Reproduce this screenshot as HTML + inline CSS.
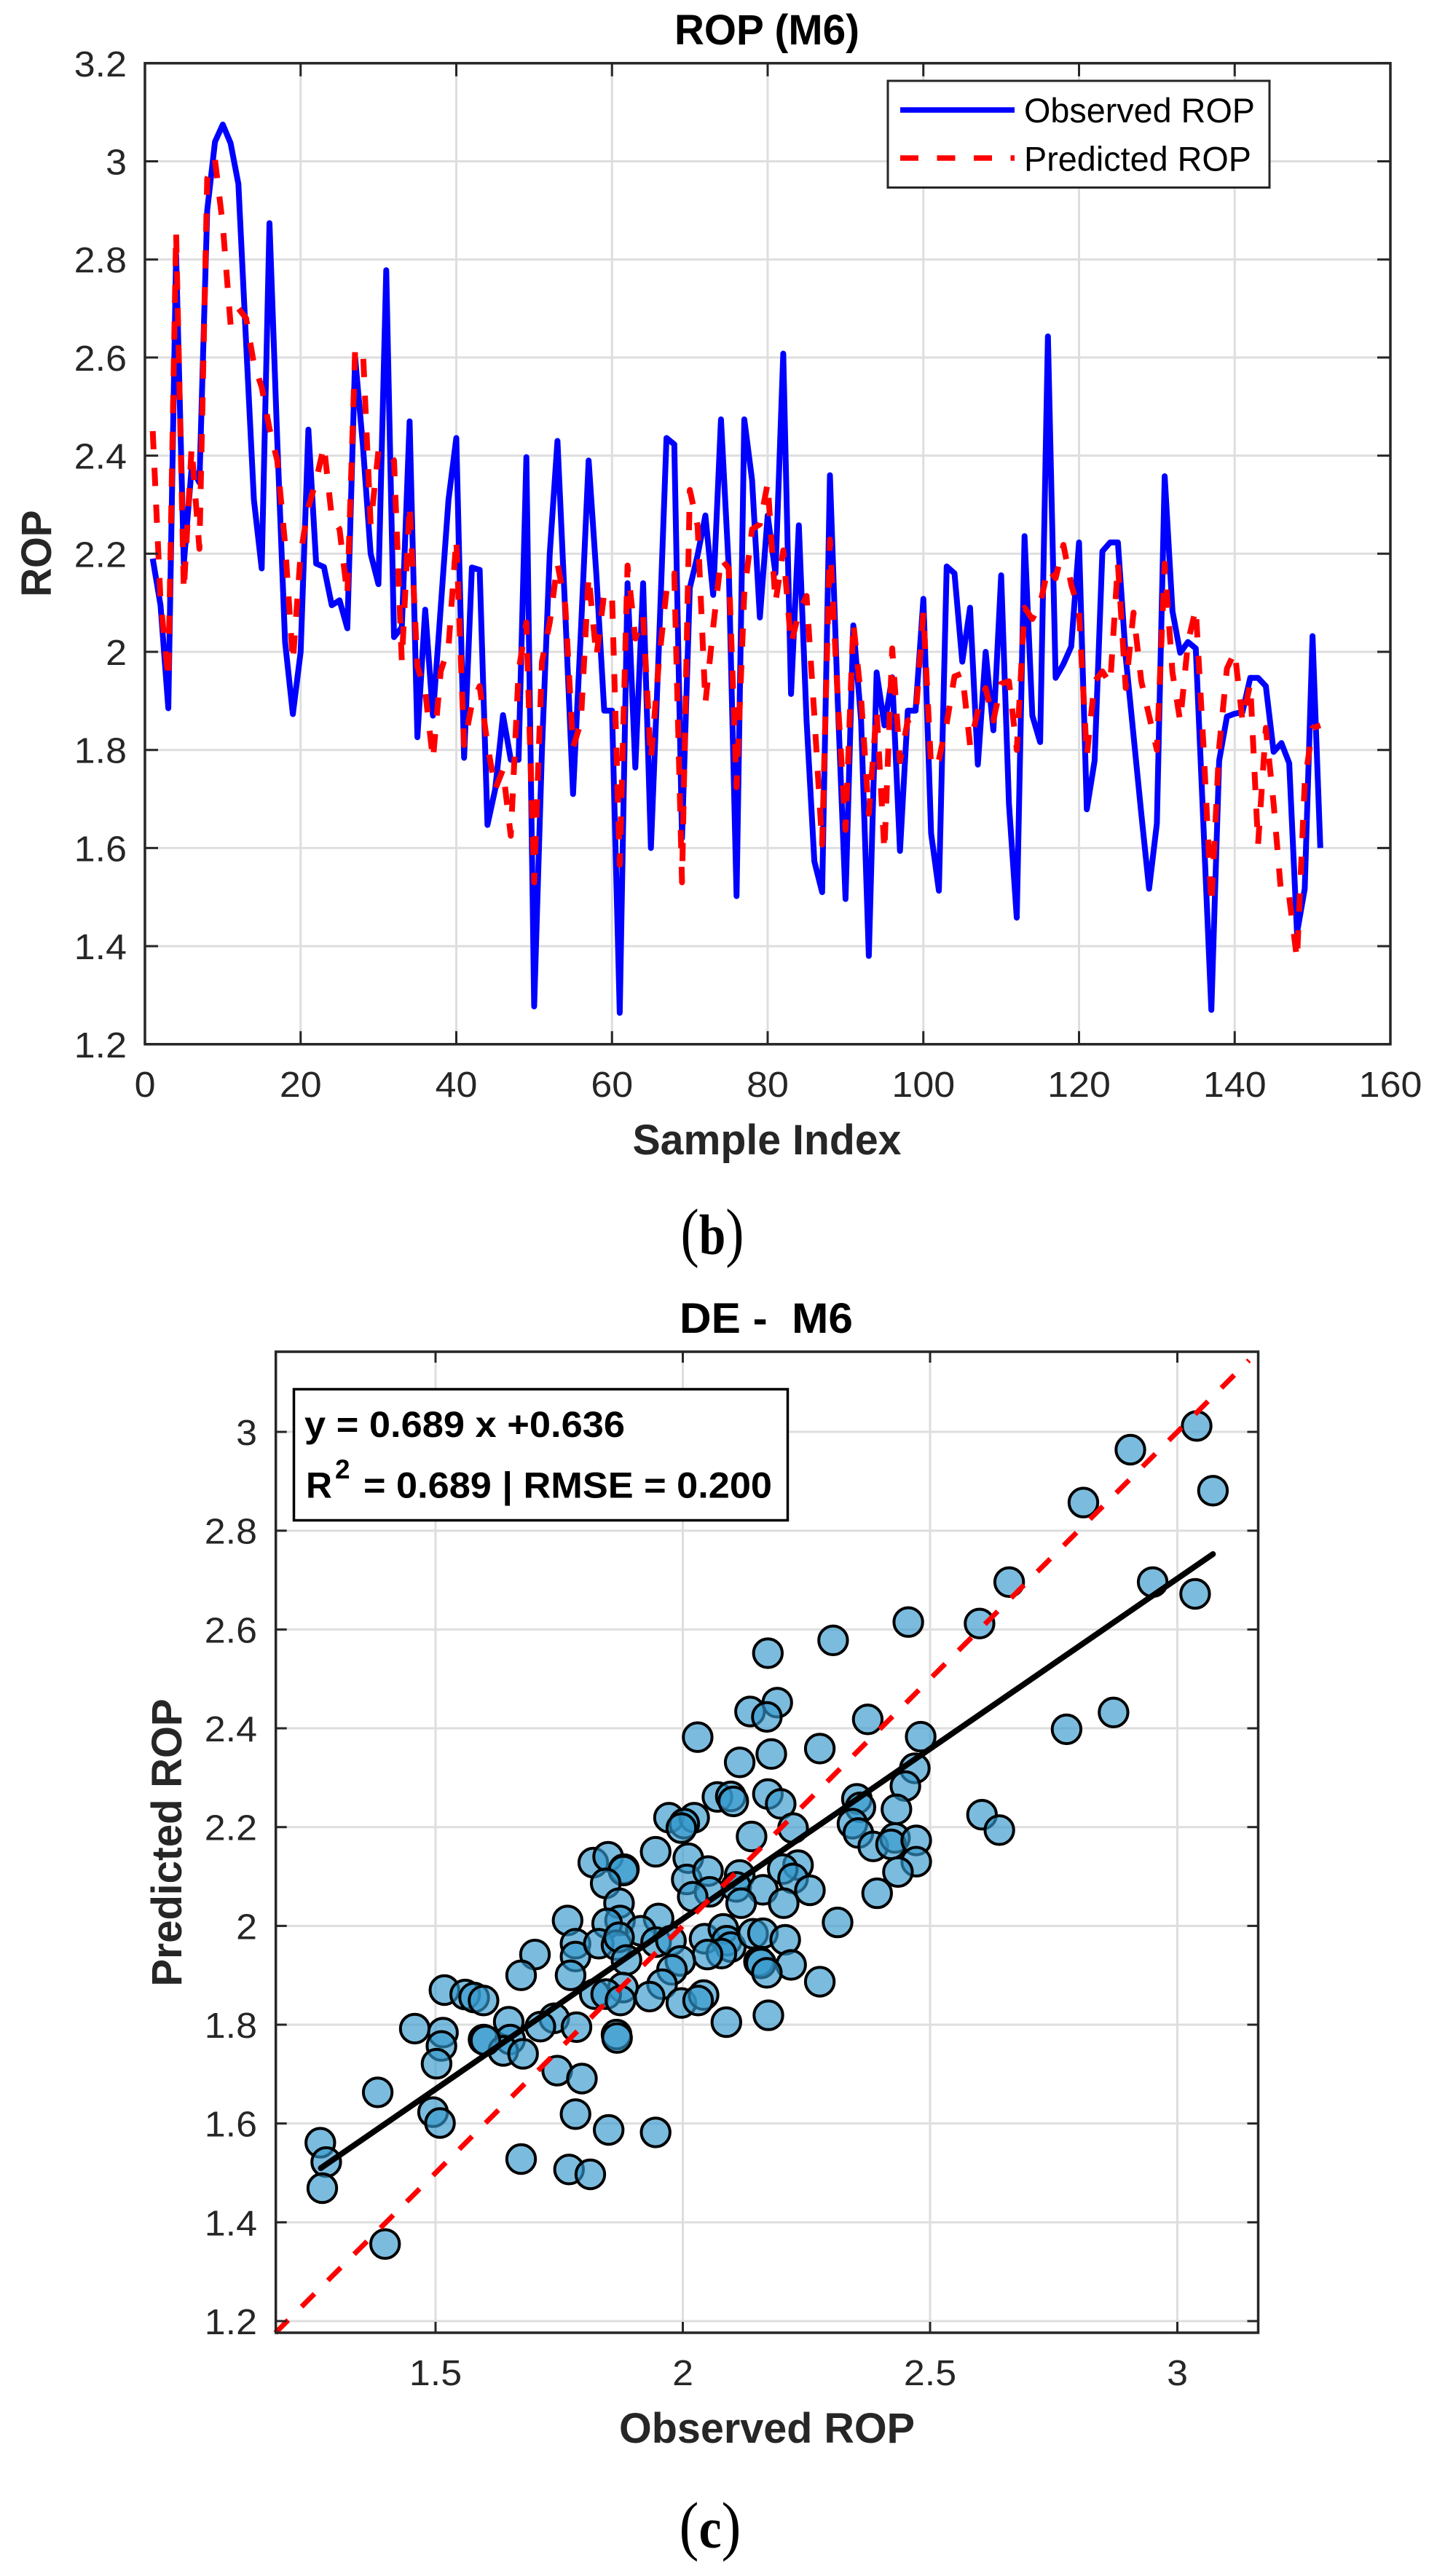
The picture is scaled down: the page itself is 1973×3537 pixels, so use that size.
<!DOCTYPE html>
<html lang="en">
<head>
<meta charset="utf-8">
<title>ROP (M6) charts</title>
<style>
html,body{margin:0;padding:0;background:#fff;}
svg{display:block;}
text{font-family:"Liberation Sans",Arial,sans-serif;white-space:pre;}
.cap{font-family:"Liberation Serif",serif;}
</style>
</head>
<body>
<svg id="fig" xmlns="http://www.w3.org/2000/svg" width="1973" height="3537" viewBox="0 0 1973 3537">
  <rect x="0" y="0" width="1973" height="3537" fill="#fff"/>

  <g id="lineChart"></g>
  <g id="scatterChart"></g>

  <text x="1053" y="61" text-anchor="middle" font-size="58" font-weight="700" fill="#000" textLength="254" lengthAdjust="spacingAndGlyphs">ROP (M6)</text>
  <text x="1053" y="1585" text-anchor="middle" font-size="58" font-weight="700" fill="#262626" textLength="369" lengthAdjust="spacingAndGlyphs">Sample Index</text>
  <text transform="translate(70,760) rotate(-90)" text-anchor="middle" font-size="58" font-weight="700" fill="#262626" textLength="119" lengthAdjust="spacingAndGlyphs">ROP</text>

  <g>
    <rect x="1219" y="111" width="524" height="146.5" fill="#fff" stroke="#262626" stroke-width="3"/>
    <line x1="1236" y1="151" x2="1393" y2="151" stroke="#0000ff" stroke-width="7.5"/>
    <line x1="1236" y1="217" x2="1393" y2="217" stroke="#ff0000" stroke-width="7.5" stroke-dasharray="25 25.5"/>
    <text x="1406" y="168" font-size="47" fill="#000" textLength="317" lengthAdjust="spacingAndGlyphs">Observed ROP</text>
    <text x="1406" y="234.5" font-size="47" fill="#000" textLength="312" lengthAdjust="spacingAndGlyphs">Predicted ROP</text>
  </g>

  <text class="cap" x="978" y="1722" text-anchor="middle" font-size="90" fill="#000" textLength="87" lengthAdjust="spacingAndGlyphs">(<tspan font-size="78" font-weight="700">b</tspan>)</text>

  <text x="1052" y="1830" text-anchor="middle" font-size="58" font-weight="700" fill="#000" textLength="238" lengthAdjust="spacingAndGlyphs">DE -  M6</text>
  <text x="1053" y="3354" text-anchor="middle" font-size="58" font-weight="700" fill="#262626" textLength="406" lengthAdjust="spacingAndGlyphs">Observed ROP</text>
  <text transform="translate(249,2530) rotate(-90)" text-anchor="middle" font-size="58" font-weight="700" fill="#262626" textLength="395" lengthAdjust="spacingAndGlyphs">Predicted ROP</text>

  <g>
    <rect x="403.5" y="1907.5" width="678" height="180" fill="#fff" stroke="#000" stroke-width="3.5"/>
    <text x="418" y="1973" font-size="50" font-weight="700" fill="#000" textLength="440" lengthAdjust="spacingAndGlyphs">y = 0.689 x +0.636</text>
    <text x="420" y="2056.5" font-size="50" font-weight="700" fill="#000" textLength="36" lengthAdjust="spacingAndGlyphs">R</text>
    <text x="460" y="2030" font-size="37" font-weight="700" fill="#000">2</text>
    <text x="499" y="2056.5" font-size="50" font-weight="700" fill="#000" textLength="561" lengthAdjust="spacingAndGlyphs">= 0.689 | RMSE = 0.200</text>
  </g>

  <text class="cap" x="975" y="3498" text-anchor="middle" font-size="90" fill="#000" textLength="85" lengthAdjust="spacingAndGlyphs">(<tspan font-size="78" font-weight="700">c</tspan>)</text>
</svg>

<script>
const lineXTicks = [0, 20, 40, 60, 80, 100, 120, 140, 160];
const lineXLabels = ['0', '20', '40', '60', '80', '100', '120', '140', '160'];
const lineYTicks = [1.2, 1.4, 1.6, 1.8, 2, 2.2, 2.4, 2.6, 2.8, 3, 3.2];
const lineYLabels = ['1.2', '1.4', '1.6', '1.8', '2', '2.2', '2.4', '2.6', '2.8', '3', '3.2'];

const observedRop = [
2.19,2.095,1.885,2.81,2.18,2.375,2.345,2.90,3.04,3.075,
3.037,2.954,2.63,2.31,2.17,2.874,2.43,2.02,1.873,2.0,
2.453,2.18,2.173,2.095,2.105,2.048,2.60,2.42,2.2,2.138,
2.778,2.03,2.05,2.47,1.826,2.086,1.87,2.09,2.31,2.436,
1.784,2.172,2.167,1.647,1.72,1.871,1.78,1.78,2.397,1.277,
1.80,2.2,2.43,2.08,1.71,2.04,2.39,2.155,1.88,1.88,
1.264,2.14,1.764,2.14,1.6,2.0,2.436,2.423,1.62,2.13,
2.197,2.278,2.116,2.474,2.17,1.502,2.474,2.35,2.07,2.278,
2.16,2.608,1.914,2.258,1.86,1.573,1.51,2.36,1.9,1.496,
2.054,1.86,1.38,1.958,1.85,1.948,1.594,1.88,1.88,2.108,
1.63,1.513,2.174,2.16,1.98,2.09,1.77,2.0,1.84,2.156,
1.69,1.458,2.236,1.87,1.816,2.643,1.947,1.975,2.011,2.223,
1.679,1.778,2.205,2.223,2.223,1.99,1.83,1.67,1.517,1.65,
2.358,2.083,1.998,2.02,2.007,1.64,1.27,1.778,1.868,1.874,
1.877,1.947,1.947,1.93,1.796,1.814,1.773,1.427,1.517,2.032,
1.6];

const predictedRop = [
2.45,2.105,1.944,2.856,2.124,2.417,2.21,2.965,3.003,2.87,
2.667,2.70,2.68,2.587,2.54,2.455,2.39,2.22,1.98,2.2,
2.294,2.35,2.42,2.275,2.25,2.115,2.615,2.615,2.26,2.41,
2.41,2.39,1.98,2.30,1.97,1.92,1.78,1.96,2.01,2.23,
1.81,1.894,1.93,1.81,1.72,1.76,1.625,1.96,2.06,1.53,
1.98,2.06,2.18,2.095,1.805,1.856,2.155,1.99,2.12,2.116,
1.566,2.176,2.027,2.073,1.78,1.975,2.125,2.16,1.53,2.33,
2.257,1.895,2.05,2.19,2.17,1.724,2.12,2.25,2.26,2.344,
2.1,2.207,2.016,2.08,2.114,1.87,1.607,2.229,1.905,1.637,
2.06,1.905,1.67,1.88,1.594,2.007,1.777,1.86,1.867,2.08,
1.765,1.78,1.854,1.95,1.956,1.81,1.88,1.926,1.86,1.935,
1.94,1.8,2.09,2.067,2.097,2.17,2.15,2.218,2.137,2.083,
1.787,1.94,1.96,1.935,2.18,1.926,2.08,1.94,1.87,1.8,
2.18,1.958,1.858,2.02,2.088,1.805,1.485,1.805,1.966,2.0,
1.86,1.935,1.607,1.845,1.69,1.5,1.5,1.373,1.733,1.845,
1.85];

const scatterXTicks = [1.5, 2, 2.5, 3];
const scatterXLabels = ['1.5', '2', '2.5', '3'];
const scatterYTicks = [1.2, 1.4, 1.6, 1.8, 2, 2.2, 2.4, 2.6, 2.8, 3];
const scatterYLabels = ['1.2', '1.4', '1.6', '1.8', '2', '2.2', '2.4', '2.6', '2.8', '3'];

const scatterObserved = [
2.456,2.600,2.304,2.172,2.191,2.136,2.170,2.374,2.030,2.481,
2.179,2.115,2.277,2.469,2.450,2.172,2.198,2.432,2.352,2.359,
2.070,2.097,2.102,1.972,2.023,2.003,1.997,2.223,2.605,2.640,
2.139,2.343,2.355,2.385,2.429,2.421,2.472,2.472,2.435,2.393,
1.945,2.011,1.819,1.849,1.881,1.880,1.844,2.008,2.051,2.115,
2.233,2.202,2.223,2.257,2.108,2.162,2.054,2.020,2.118,2.204,
2.313,1.871,1.873,1.847,1.767,1.951,1.915,1.783,1.783,1.830,
1.866,1.871,1.886,1.946,1.976,2.044,2.082,2.089,2.097,2.078,
2.050,2.142,2.162,2.207,2.219,2.154,2.158,2.170,2.277,1.995,
1.978,1.958,1.933,1.997,2.042,2.031,2.088,2.173,1.701,1.673,
1.773,1.518,1.560,1.578,1.597,1.879,1.822,1.845,1.874,1.648,
1.740,1.712,1.785,1.597,1.651,1.637,1.677,1.866,1.867,1.746,
1.796,1.458,1.515,1.512,1.502,1.383,1.495,1.509,1.267,
1.279,1.271,1.398,1.673,1.770,1.813,1.783,1.850,1.945,3.039,
2.905,3.072,2.810,2.950,3.036,2.660,2.871,2.776,1.601];

const scatterPredicted = [
2.615,2.612,2.578,2.552,2.452,2.434,2.423,2.418,2.382,2.383,
2.348,2.331,2.359,2.319,2.283,2.267,2.247,2.236,2.257,2.240,
2.261,2.262,2.252,2.219,2.219,2.207,2.198,2.198,2.225,2.194,
2.181,2.207,2.188,2.161,2.178,2.165,2.173,2.130,2.109,2.066,
2.150,2.137,2.128,2.140,2.115,2.112,2.086,2.094,2.111,2.103,
2.123,2.115,2.096,2.072,2.079,2.073,2.069,2.059,2.046,2.046,
2.007,2.046,2.011,2.005,2.011,2.015,1.990,1.964,1.938,1.964,
1.961,1.977,1.931,1.967,1.970,1.974,1.994,1.970,1.957,1.944,
1.942,1.984,1.985,1.972,1.921,1.928,1.924,1.905,1.887,1.929,
1.911,1.882,1.857,1.844,1.860,1.849,1.805,1.819,1.942,1.900,
1.900,1.870,1.861,1.855,1.849,1.875,1.862,1.862,1.849,1.806,
1.813,1.796,1.795,1.770,1.770,1.747,1.741,1.780,1.773,1.707,
1.691,1.792,1.784,1.757,1.721,1.663,1.623,1.601,1.561,
1.522,1.469,1.356,1.528,1.507,1.497,1.619,1.587,1.582,3.012,
2.964,2.881,2.857,2.696,2.672,2.696,2.432,2.398,1.768];

const fitSlope = 0.689;
const fitIntercept = 0.636;
const fitStart = 1.268;
const fitEnd = 3.072;
const identityStart = 1.176;
const identityEnd = 3.145;

const NS = 'http://www.w3.org/2000/svg';
const TICK_COLOR = '#262626';
const GRID_COLOR = '#dedede';
const LABEL_SCALE = 1.06;

function xLine(v) { return 199 + v * 10.6875; }
function yLine(v) { return 1433.8 - (v - 1.2) * 673.5; }
function xScatter(v) { return 598 + (v - 1.5) * 679; }
function yScatter(v) { return 3187 - (v - 1.2) * 678.3; }

function svgEl(tag, parent) {
  const el = document.createElementNS(NS, tag);
  parent.appendChild(el);
  return el;
}
function drawSegment(parent, x1, y1, x2, y2, color, width) {
  const l = svgEl('line', parent);
  l.setAttribute('x1', x1);
  l.setAttribute('y1', y1);
  l.setAttribute('x2', x2);
  l.setAttribute('y2', y2);
  l.setAttribute('stroke', color);
  l.setAttribute('stroke-width', width);
  return l;
}
function drawLabel(parent, str, x, y, anchor) {
  const t = svgEl('text', parent);
  t.setAttribute('transform', 'translate(' + x + ',' + y + ') scale(' + LABEL_SCALE + ',1)');
  t.setAttribute('text-anchor', anchor);
  t.setAttribute('font-size', '49');
  t.setAttribute('fill', TICK_COLOR);
  t.textContent = str;
  return t;
}

function drawAxes(root, box, xTicks, xLabels, yTicks, yLabels, xf, yf, tickLen, xLabelY, yLabelX) {
  xTicks.forEach(function (v) {
    const g = drawSegment(root, xf(v), box.top, xf(v), box.bottom, GRID_COLOR, 3);
    
    
  });
  yTicks.forEach(function (v) {
    const g = drawSegment(root, box.left, yf(v), box.right, yf(v), GRID_COLOR, 3);
    
    
  });
  xTicks.forEach(function (v, i) {
    const t = drawLabel(root, xLabels[i], xf(v), xLabelY, 'middle');
    
    
  });
  yTicks.forEach(function (v, i) {
    const t = drawLabel(root, yLabels[i], yLabelX, yf(v) + 18, 'end');
    
    
  });
}
function drawFrame(root, box, xTicks, yTicks, xf, yf, tickLen) {
  xTicks.forEach(function (v) {
    const a = drawSegment(root, xf(v), box.bottom, xf(v), box.bottom - tickLen, TICK_COLOR, 3);
    
    
    const b = drawSegment(root, xf(v), box.top, xf(v), box.top + tickLen, TICK_COLOR, 3);
    
    
  });
  yTicks.forEach(function (v) {
    const a = drawSegment(root, box.left, yf(v), box.left + tickLen, yf(v), TICK_COLOR, 3);
    
    
    const b = drawSegment(root, box.right, yf(v), box.right - tickLen, yf(v), TICK_COLOR, 3);
    
    
  });
  const f = svgEl('rect', root);
  f.setAttribute('x', box.left);
  f.setAttribute('y', box.top);
  f.setAttribute('width', box.right - box.left);
  f.setAttribute('height', box.bottom - box.top);
  f.setAttribute('fill', 'none');
  f.setAttribute('stroke', TICK_COLOR);
  f.setAttribute('stroke-width', '3.5');
  
  
}
function seriesPath(values, xf, yf) {
  return values.map(function (v, i) {
    return (i ? 'L' : 'M') + xf(i + 1).toFixed(1) + ' ' + yf(v).toFixed(1);
  }).join('');
}

/* line chart */
const lineRoot = document.getElementById('lineChart');
const lineBox = { left: 199, right: 1909, top: 86.8, bottom: 1433.8 };
drawAxes(lineRoot, lineBox, lineXTicks, lineXLabels, lineYTicks, lineYLabels, xLine, yLine, 18, 1506, 174);

const observedPath = svgEl('path', lineRoot);
observedPath.setAttribute('d', seriesPath(observedRop, xLine, yLine));
observedPath.setAttribute('fill', 'none');
observedPath.setAttribute('stroke', '#0000ff');
observedPath.setAttribute('stroke-width', '8');
observedPath.setAttribute('stroke-linejoin', 'round');



const predictedPath = svgEl('path', lineRoot);
predictedPath.setAttribute('d', seriesPath(predictedRop, xLine, yLine));
predictedPath.setAttribute('fill', 'none');
predictedPath.setAttribute('stroke', '#ff0000');
predictedPath.setAttribute('stroke-width', '8');
predictedPath.setAttribute('stroke-dasharray', '25 25.5');
predictedPath.setAttribute('stroke-linejoin', 'round');



drawFrame(lineRoot, lineBox, lineXTicks, lineYTicks, xLine, yLine, 18);

/* scatter chart */
const scatterRoot = document.getElementById('scatterChart');
const scatterBox = { left: 378.7, right: 1727.5, top: 1856, bottom: 3203 };
drawAxes(scatterRoot, scatterBox, scatterXTicks, scatterXLabels, scatterYTicks, scatterYLabels, xScatter, yScatter, 15, 3275, 353);

scatterObserved.forEach(function (v, i) {
  const c = svgEl('circle', scatterRoot);
  c.setAttribute('cx', xScatter(v).toFixed(1));
  c.setAttribute('cy', yScatter(scatterPredicted[i]).toFixed(1));
  c.setAttribute('r', '19.7');
  c.setAttribute('fill', '#3498cc');
  c.setAttribute('fill-opacity', '0.65');
  c.setAttribute('stroke', '#000');
  c.setAttribute('stroke-width', '4');
  
  
});

const fitLine = drawSegment(scatterRoot, xScatter(fitStart), yScatter(fitSlope * fitStart + fitIntercept), xScatter(fitEnd), yScatter(fitSlope * fitEnd + fitIntercept), '#000', 8);
fitLine.setAttribute('stroke-linecap', 'round');



const identityLine = drawSegment(scatterRoot, xScatter(identityStart), yScatter(identityStart), xScatter(identityEnd), yScatter(identityEnd), '#ff0000', 7);
identityLine.setAttribute('stroke-dasharray', '25 26');



drawFrame(scatterRoot, scatterBox, scatterXTicks, scatterYTicks, xScatter, yScatter, 15);
</script>
</body>
</html>
